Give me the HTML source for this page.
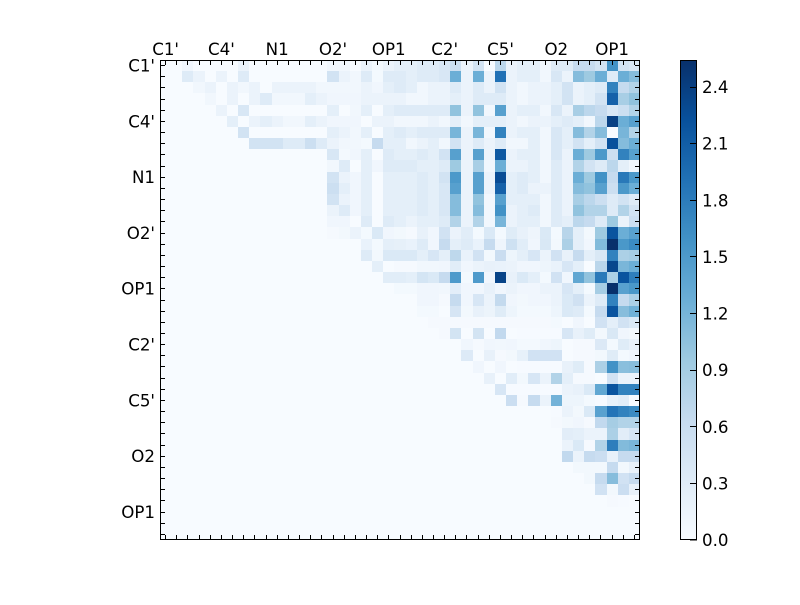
<!DOCTYPE html>
<html>
<head>
<meta charset="utf-8">
<style>
  html,body{margin:0;padding:0;background:#ffffff;}
  body{width:800px;height:600px;overflow:hidden;}
  svg text{font-family:"DejaVu Sans","Liberation Sans",sans-serif;font-size:16.67px;fill:#000;}
</style>
</head>
<body>
<svg id="chart" xmlns="http://www.w3.org/2000/svg" width="800" height="600" viewBox="0 0 800 600">
  <defs>
    <linearGradient id="cb" x1="0" y1="1" x2="0" y2="0">
      <stop offset="0" stop-color="#f7fbff"/>
      <stop offset="0.125" stop-color="#deebf7"/>
      <stop offset="0.25" stop-color="#c6dbef"/>
      <stop offset="0.375" stop-color="#9ecae1"/>
      <stop offset="0.5" stop-color="#6baed6"/>
      <stop offset="0.625" stop-color="#4292c6"/>
      <stop offset="0.75" stop-color="#2171b5"/>
      <stop offset="0.875" stop-color="#08519c"/>
      <stop offset="1" stop-color="#08306b"/>
    </linearGradient>
  </defs>
  <rect x="0" y="0" width="800" height="600" fill="#ffffff"/>
  <rect x="160" y="60" width="480" height="480" fill="#f7fbff"/>
  <g id="cells" shape-rendering="crispEdges"></g>
  <g id="ticks" stroke="#000" stroke-width="1" shape-rendering="crispEdges"></g>
  <rect x="160.5" y="60.5" width="479" height="479" fill="none" stroke="#000" stroke-width="1" shape-rendering="crispEdges"/>

  <!-- top labels -->
  <g text-anchor="middle">
    <text x="165.6" y="55">C1'</text>
    <text x="221.4" y="55">C4'</text>
    <text x="277.2" y="55">N1</text>
    <text x="333.0" y="55">O2'</text>
    <text x="388.8" y="55">OP1</text>
    <text x="444.7" y="55">C2'</text>
    <text x="500.5" y="55">C5'</text>
    <text x="556.3" y="55">O2</text>
    <text x="612.1" y="55">OP1</text>
  </g>
  <!-- left labels -->
  <g text-anchor="end">
    <text x="155" y="71.5">C1'</text>
    <text x="155" y="127.3">C4'</text>
    <text x="155" y="183.1">N1</text>
    <text x="155" y="238.9">O2'</text>
    <text x="155" y="294.7">OP1</text>
    <text x="155" y="350.6">C2'</text>
    <text x="155" y="406.4">C5'</text>
    <text x="155" y="462.2">O2</text>
    <text x="155" y="518.0">OP1</text>
  </g>

  <!-- colorbar -->
  <rect x="680.5" y="60.5" width="16" height="479" fill="url(#cb)" stroke="#000" stroke-width="1" shape-rendering="crispEdges"/>
  <g stroke="#000" stroke-width="1" shape-rendering="crispEdges">
    <line x1="690" y1="540" x2="697" y2="540"/>
    <line x1="690" y1="483.5" x2="697" y2="483.5"/>
    <line x1="690" y1="426.5" x2="697" y2="426.5"/>
    <line x1="690" y1="370.5" x2="697" y2="370.5"/>
    <line x1="690" y1="313.5" x2="697" y2="313.5"/>
    <line x1="690" y1="256.5" x2="697" y2="256.5"/>
    <line x1="690" y1="200.5" x2="697" y2="200.5"/>
    <line x1="690" y1="143.5" x2="697" y2="143.5"/>
    <line x1="690" y1="87.5" x2="697" y2="87.5"/>
  </g>
  <g>
    <text x="702" y="546">0.0</text>
    <text x="702" y="489.5">0.3</text>
    <text x="702" y="432.8">0.6</text>
    <text x="702" y="376.1">0.9</text>
    <text x="702" y="319.5">1.2</text>
    <text x="702" y="262.9">1.5</text>
    <text x="702" y="206.3">1.8</text>
    <text x="702" y="149.6">2.1</text>
    <text x="702" y="93">2.4</text>
  </g>
</svg>
<script>
(function(){
  var N=43, x0=160, y0=60, S=480/N;
  var stops=[[247,251,255],[222,235,247],[198,219,239],[158,202,225],[107,174,214],[66,146,198],[33,113,181],[8,81,156],[8,48,107]];
  function col(L){
    var t=Math.max(0,Math.min(16,L))/2;
    var i=Math.floor(t); if(i>=8){i=7;}
    var f=t-i;
    var a=stops[i], b=stops[i+1];
    var r=Math.round(a[0]+(b[0]-a[0])*f), g=Math.round(a[1]+(b[1]-a[1])*f), bb=Math.round(a[2]+(b[2]-a[2])*f);
    return "rgb("+r+","+g+","+bb+")";
  }
  var R={
0:[0, 0,0,0.6,0,0,0,0,1,0,0,0,0,0,0,0,0.5,0.5,0,1,0.3,1,1.5,1.5,2,2,2.5,3.5,1,3,0,4.5,1,1.5,1.5,0.5,2,2,4,4,3,10,3,2.5],
1:[0, 0,0,2,1,0,1,0,2,0,0,0,0,0,0,0,3,1,0.5,2,0.3,2,2,1.5,2,2,2.5,8,1,8,1,12,1,1.5,1.5,0.5,2.5,1,7,6,8,2,8,7],
2:[0, 0,0,0,0.5,1,0,1,0.5,1,0,1,1,1,1,0.5,0.5,0.5,0.5,1,0.6,1.5,2,1.5,0.5,1,1,2,1,2,1,3,1,0.5,1,1,1.5,3,1,1.5,2,11,4,5],
3:[0, 0,0,0,0,0.5,0,1,0,1,2,0.5,0.5,0.5,1.5,1,0.6,0.6,0.6,1,1,1,1,0.5,0.5,1,1,1.5,1,2,2,2,1,0.5,1,1,1.5,3,1,1.5,3,13,5.5,6.5],
4:[0, 0,0,0,0,0,1,0,2.5,0,0,0,0,0,0,0,1.5,0,0.5,1.5,0,1.5,2,2,2,2,2,6.5,1,6.5,0.5,9,1,1.5,1.5,0.5,2.5,1,5.5,4.5,4,2.5,3.5,5],
5:[0, 0,0,0,0,0,0,1.5,0,1,1.5,1,0.5,0.5,1.5,1,0.6,0.6,0.6,0,1,1,0.5,0.5,0.5,1,0.5,1.5,0.5,1.5,1.5,1.5,1,0.5,1,1,1.5,2,1.5,0.5,4.5,15,8,9],
6:[0, 0,0,0,0,0,0,0,3,0,0,0,0,0,0,0,1.5,1,0.5,1.5,0,1.5,2,1.5,2,2,2,7.5,1,7.5,0.5,11,1,1.5,1.5,0.5,2.5,1.5,7,5,7,0,7.5,5],
7:[0, 0,0,0,0,0,0,0,0,3,3,3,2,2,3.5,2,1,0.5,0.5,0.3,4,1.5,1.5,0.5,1,1.5,0.5,3,1,2,1,2,0.5,0.5,1.5,0.5,2.5,1.5,3,1.5,3,14,7,8],
8:[15, 2.5,0.3,0.6,1.5,0,2, 1.5,1.5,2,1.5,3,9,1,9,1,13.5,1,1.5,1.5,0.5,2.5,1,8,6,9.5,3.5,11,9],
9:[15, 0.5,2,0,1.5,0.6,2, 2,2,1.5,1.5,2,6,1,5.5,0.5,8,1,1,1.5,0.5,2,1,5,3,2,4.5,1.5,0.5],
10:[15, 3,1,0.6,1.5,0,1.5, 1.5,1.5,2,1.5,3,9.5,1,9,1,14.3,1.5,2,1.5,0.5,2,1,8,6,10,4,11.5,9.5],
11:[15, 3.5,1.5,0.6,1.5,0,1.5, 1.5,1.5,2,1.5,2.5,9,1,9,1,13,1.5,2,1,1,2,1,7,6.5,9,3.5,9.5,8],
12:[15, 3,1,0.6,1.5,0,1.5, 1.5,1.5,2,1.5,2.5,7,1,6.5,0.5,9,1.5,1.5,1.5,0.5,2,1,5.5,4.5,3.5,2,3,2],
13:[15, 1,2,0.6,1.5,0,1.5, 1.5,1.5,2,1.5,2.5,7,1,7,0.5,10,1,1.5,2,0.5,2,1,6.5,5,5,2,5,3],
14:[15, 0.6,0.6,0,2,0,2, 1.5,1,1.5,1.5,2,5,1,5,0.5,7.5,1,1.5,1.5,0.5,2,1.5,4.5,4,2,6,1,3.5],
15:[15, 0.2,0.4,1,0.3,2.3,0.6,0.4,0.2,1.2,0.6,3.1,1,1.8,0.3,2.3,0.3,1.9,1.2,0.7,2.3,0.3, 4.7,1.5,0.4,6,13.8,8,8.9],
16:[18, 1.1,0.3,1.5,1.4,1.1,2,0.6,4,1.5,2,1.1,4,0.7,3.3,1.8,0.6,2.4,0.4, 5.3,1.5,0.6,7.1,16,9.6,10.4],
17:[18, 2,0.4,2.3,2.3,2.3,1.5,2.6,1.5,4.4,1.1,3.1,0.4,3.7,0.8,1.5,2.6,1,3.1, 1.2,4,1.5,2.4,11,5.3,5.6],
18:[19, 1.5,0,0.2,0.2,0.5,0.5,0.6,1.8,0.6,1,1.2,1.1,1,0.6,0.6,0.8,1.1, 2.6,1.5,0,4.6,14.6,7.4,8],
19:[20, 1.8,1.8,1.5,2.8,2.3,4,9.4,0.3,9.4,0.6,14.8,1.2,2.3,1.5,0.3,3.1, 0.6,8.5,6.5,11.5,5.3,13.8,11.2],
20:[21, 0.3,0.3,0.6,0.6,0.5,1.6,0.6,0.6,1.2,0.6,1,0.6,0.6,1,1, 2.6,1.5,0.3,5.6,16,8.9,9.6],
21:[23, 0.6,0.6,0.2,4,0.6,2.6,1,4.1,0.6,0.4,0.6,0.6,1, 2.3,3.2,1,2,11,4,5.3],
22:[23, 0.3,0.3,0,2.7,0.4,1.2,0.9,1.9,0.8,0.3,0.3,0.3,0.8, 2.3,2,0.3,4,13.8,6.9,7.8],
23:[24, 0.2,0.2,0.2,0.2,0.2,0.2,0.2,0.2,0.2,0.2,0.2,0.3, 0,0.6,0,3.1,1.5,3.1,2.3],
24:[25, 0.2,2.9,0,2.9,0,4.2,0,0.1,0.1,0.1,0.1, 2.6,1.2,1.9,0.4,2.4,0.6,0.4],
25:[27, 0.6,0.2,0.6,0.5,0.6,0.3,0.3,0.6,0.8, 0,0.2,0.2,2.2,0.3,1.9,1.2],
26:[27, 2.1,0,1.2,0.2,0.4,1.3,3.1,3.1,3.1, 0,0.2,0.2,0.4,1.9,0.3,0.6],
27:[28, 0.6,0,0.6,0,0.1,0.1,0.1,0.1, 1.2,1.9,0.2,5.3,10,6.8,6.9],
28:[29, 1.2,0,1.8,0.4,2.6,1,5, 1.5,0.2,0.2,0,3.1,1,1],
29:[30, 2.6,0.1,0.1,0.1,0.1,0.1, 1,1.2,2.3,8.5,13.8,11,11],
30:[31, 3.6,0.2,4,1,7.7, 0.8,0.8,0.3,0.1,1.2,1.7,0],
31:[35, 0.1, 1,0.4,2.3,8.9,11.8,11,10.4],
32:[35, 0.2, 0.4,0.6,0.2,4.2,5.6,5,5],
33:[36, 1.7,1.5,1,1,5.3,1.7,2.6],
34:[36, 1,2.3,0.2,5,11.2,7.1,7.4],
35:[36, 4.2,1,4,3.6,1.2,4,4],
36:[37, 0.4,0.4,0.4,4,0.4,1.2],
37:[38, 0.4,4,6.9,3.1,4],
38:[39, 3.1,0.4,3.6,1.2],
39:[40, 0.2,0.1]
  };
  var NS="http://www.w3.org/2000/svg";
  var g=document.getElementById("cells");
  for(var i in R){
    var row=R[i], st=row[0], r=parseInt(i,10);
    for(var k=1;k<row.length;k++){
      var v=row[k]; if(v<=0) continue;
      var c=st+k-1;
      var xa=Math.round(x0+c*S), xb=Math.round(x0+(c+1)*S);
      var ya=Math.round(y0+r*S), yb=Math.round(y0+(r+1)*S);
      var e=document.createElementNS(NS,"rect");
      e.setAttribute("x",xa); e.setAttribute("y",ya);
      e.setAttribute("width",xb-xa); e.setAttribute("height",yb-ya);
      e.setAttribute("fill",col(v));
      g.appendChild(e);
    }
  }
  var t=document.getElementById("ticks");
  function ln(a,b,c,d){var e=document.createElementNS(NS,"line");e.setAttribute("x1",a);e.setAttribute("y1",b);e.setAttribute("x2",c);e.setAttribute("y2",d);t.appendChild(e);}
  for(var j=0;j<N;j++){
    var p=Math.floor(x0+(j+0.5)*S)+0.5;
    var q=Math.floor(y0+(j+0.5)*S)+0.5;
    ln(p,60,p,65); ln(p,540,p,535);
    ln(160,q,165,q); ln(640,q,635,q);
  }
})();
</script>
</body>
</html>
